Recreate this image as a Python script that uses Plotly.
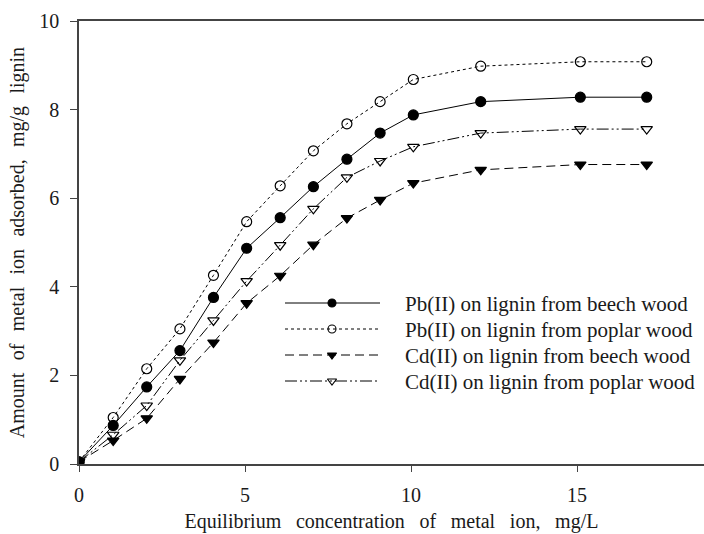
import plotly.graph_objects as go

x_vals = [0, 1.03, 2.04, 3.04, 4.05, 5.05, 6.06, 7.06, 8.07, 9.07, 10.07, 12.1, 15.1, 17.1]

pb_beech = [0.05, 0.87, 1.74, 2.56, 3.76, 4.87, 5.56, 6.26, 6.88, 7.47, 7.88, 8.18, 8.28, 8.28]
pb_poplar = [0.05, 1.05, 2.15, 3.05, 4.26, 5.47, 6.28, 7.07, 7.68, 8.18, 8.68, 8.98, 9.08, 9.08]
cd_beech = [0.05, 0.53, 1.03, 1.92, 2.74, 3.63, 4.25, 4.95, 5.55, 5.96, 6.34, 6.64, 6.76, 6.76]
cd_poplar = [0.05, 0.66, 1.32, 2.34, 3.24, 4.13, 4.94, 5.76, 6.47, 6.84, 7.16, 7.47, 7.56, 7.56]

names = [
    "Pb(II) on lignin from beech wood",
    "Pb(II) on lignin from poplar wood",
    "Cd(II) on lignin from beech wood",
    "Cd(II) on lignin from poplar wood",
]

x_ticks = [0, 5, 10, 15]
y_ticks = [0, 2, 4, 6, 8, 10]

FONT = "Liberation Serif, Times New Roman, serif"
INK = "#1a1a1a"
AXIS = "#444444"

# layout geometry (px)
W, H = 704, 534
ML, MR, MT, MB = 79, 0, 21, 70
PW, PH = W - ML - MR, H - MT - MB

styles = [
    dict(dash="solid", symbol="circle"),
    dict(dash="dot", symbol="circle-open"),
    dict(dash="9px,5px", symbol="triangle-down"),
    dict(dash="12px,3px,2px,3px,2px,3px", symbol="triangle-down-open"),
]

fig = go.Figure()
for ys, name, st in zip([pb_beech, pb_poplar, cd_beech, cd_poplar], names, styles):
    fig.add_trace(go.Scatter(
        x=x_vals, y=ys, name=name, mode="lines+markers", showlegend=False,
        line=dict(color="black", width=1, dash=st["dash"]),
        marker=dict(symbol=st["symbol"], size=10, color="black",
                    line=dict(color="black", width=1.2)),
    ))

# hand-drawn legend on a pixel overlay (plot-area pixels, origin top-left)
LEG_X0, LEG_X1, LEG_XM, LEG_TX = 285 - ML, 380 - ML, 332 - ML, 403 - ML
LEG_ROW0, LEG_DY = 303 - MT, 26
annotations = []
for i, (name, st) in enumerate(zip(names, styles)):
    yy = LEG_ROW0 + i * LEG_DY
    fig.add_trace(go.Scatter(
        x=[LEG_X0, LEG_X1], y=[yy, yy], mode="lines", xaxis="x2", yaxis="y2",
        showlegend=False, hoverinfo="skip",
        line=dict(color="black", width=1, dash=st["dash"]),
    ))
    fig.add_trace(go.Scatter(
        x=[LEG_XM], y=[yy], mode="markers", xaxis="x2", yaxis="y2",
        showlegend=False, hoverinfo="skip",
        marker=dict(symbol=st["symbol"], size=8, color="black",
                    line=dict(color="black", width=1.1)),
    ))
    annotations.append(dict(
        x=LEG_TX, y=yy + 1, xref="x2", yref="y2", text=name, showarrow=False,
        xanchor="left", yanchor="middle",
        font=dict(family=FONT, size=21, color=INK),
    ))

SPX = " \u2009\u2009\u200a"
SPY = " \u2009\u200a\u200a"
fig.update_layout(
    width=W, height=H,
    margin=dict(l=ML, r=MR, t=MT, b=MB),
    plot_bgcolor="white", paper_bgcolor="white",
    font=dict(family=FONT, color=INK, size=20),
    showlegend=False,
    annotations=annotations,
    xaxis=dict(
        range=[0, PW / 33.2], tickvals=x_ticks, ticks="outside", ticklen=6,
        tickwidth=1.2, tickcolor=AXIS, showline=True, linecolor=AXIS, linewidth=1.5,
        mirror=True, showgrid=False, zeroline=False, ticklabelstandoff=6,
        tickfont=dict(family=FONT, size=20, color=INK),
        title=dict(text=SPX.join("Equilibrium concentration of metal ion, mg/L".split(" ")),
                   font=dict(family=FONT, size=20, color=INK), standoff=9),
    ),
    yaxis=dict(
        range=[0, 10], tickvals=y_ticks, ticks="outside", ticklen=7,
        tickwidth=1.2, tickcolor=AXIS, showline=True, linecolor=AXIS, linewidth=1.5,
        showgrid=False, zeroline=False, ticklabelstandoff=7,
        tickfont=dict(family=FONT, size=20, color=INK),
        title=dict(text=SPY.join("Amount of metal ion adsorbed, mg/g lignin".split(" ")),
                   font=dict(family=FONT, size=20, color=INK), standoff=9),
    ),
    xaxis2=dict(overlaying="x", range=[0, PW], visible=False, fixedrange=True),
    yaxis2=dict(overlaying="y", range=[PH, 0], visible=False, fixedrange=True),
)

fig.write_html("out.html")
